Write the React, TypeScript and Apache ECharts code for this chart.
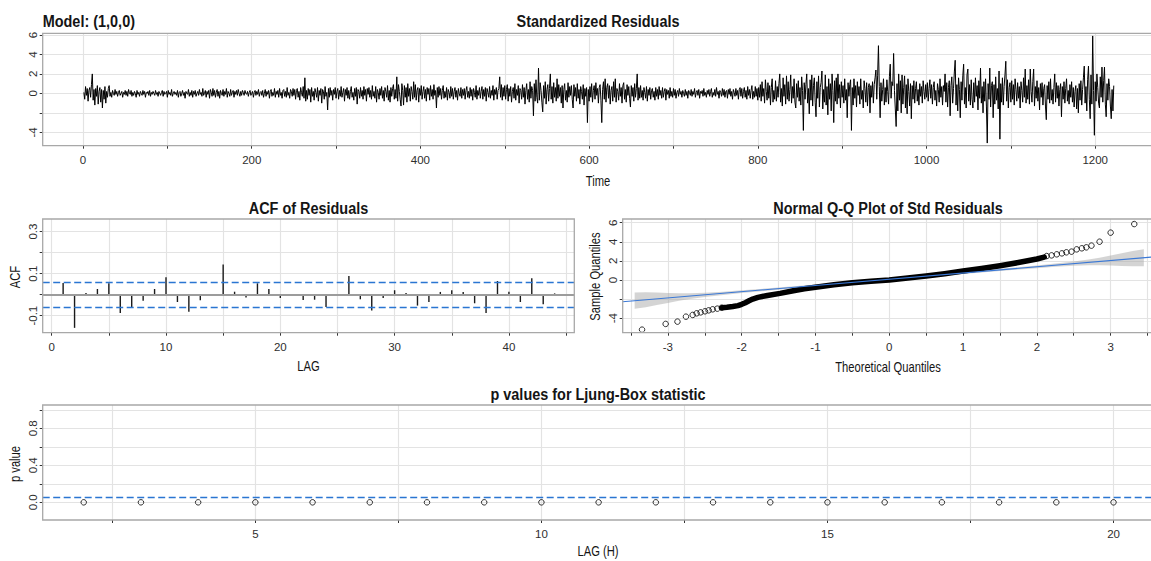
import React, { useEffect, useRef } from "react";
import * as echarts from "echarts";

// ---------- data ----------
const residuals: number[] = [
  0.1, -0.6, 0.7, -0.2, 0.5, -0.8, 0.3, 0.6, -0.4, 0.9, 2.0, -0.7, 0.4, -1.2, 0.5, -0.3, 0.8, -1.1, 0.2, 0.6,
  -0.9, 0.4, -1.5, 0.3, -0.6, 0.7, -1.0, 0.2, -0.4, 0.5,
  0.8, -0.3, 0.1, -0.4, 0.3, 0.0, -0.2, 0.4, -0.1, 0.2, -0.3, 0.1, 0.3, -0.2, 0.0, 0.2, -0.4, 0.1, -0.1, 0.3,
  -0.2, 0.2, -0.3, 0.4, 0.0, -0.1, 0.3, -0.3, 0.1, -0.2, 0.2, 0.0, -0.4, 0.3, -0.1, 0.1, -0.3, 0.2, 0.0, -0.2,
  0.3, -0.1, 0.2, -0.4, 0.1, 0.0, 0.2, -0.2, 0.3, -0.3, 0.1, -0.1, 0.2, 0.0, -0.2, 0.3, -0.1, 0.1, -0.3, 0.2,
  0.0, -0.2, 0.1, 0.3, -0.3, 0.2, -0.1, 0.0, 0.2, -0.4, 0.3, -0.1, 0.1, -0.2, 0.4, -0.3, 0.0, 0.2, -0.1, 0.1,
  -0.2, 0.3, -0.4, 0.1, 0.2, -0.3, 0.0, 0.3, -0.2, 0.1, -0.5, 0.2, 0.0, -0.1, 0.4, -0.3, 0.1, -0.2, 0.3, -0.4,
  0.2, -0.1, 0.3, -0.3, 0.0, 0.2, -0.2, 0.4, -0.1, 0.1, -0.3, 0.5, -0.2, 0.0, 0.3, -0.4, 0.2, -0.1, 0.3, -0.5,
  0.4, 0.1, -0.3, 0.5, -0.2, 0.3, -0.4, 0.1, 0.4, -0.3, 0.2, -0.5, 0.3, 0.0, -0.2, 0.4, -0.3, 0.2, -0.1, 0.5,
  -0.4, 0.2, 0.0, -0.3, 0.4, -0.2, 0.1, 0.3, -0.4, 0.2, -0.1, 0.3, -0.2, 0.4, 0.0, -0.3, 0.2, -0.2, 0.3, 0.1,
  -0.2, 0.3, 0.0, -0.1, 0.2, -0.3, 0.1, 0.3, -0.2, 0.0, 0.2, -0.4, 0.1, 0.3, -0.2, 0.2, -0.1, 0.4, -0.3, 0.1,
  0.2, -0.2, 0.3, -0.4, 0.0, 0.4, -0.3, 0.2, -0.1, 0.3, -0.5, 0.2, 0.4, -0.3, 0.1, -0.2, 0.5, -0.4, 0.2, -0.1,
  0.3, -0.4, 0.5, -0.2, 0.1, -0.5, 0.3, 0.4, -0.3, 0.2, -0.4, 0.6, -0.2, 0.1, -0.5, 0.4, 0.2, -0.3, 0.5, -0.2,
  0.4, -0.6, 0.3, 0.5, -0.4, 0.2, -0.7, 0.6, 0.1, -0.3, 0.7, -0.5, 1.6, -0.8, 0.3, -0.6, 0.5, -0.2, 0.4, -0.9,
  0.6, -0.3, 0.2, -0.7, 0.5, 0.1, -0.4, 0.6, -0.8, 0.3, -0.2, 0.5, -1.0, 0.4, 0.2, -0.6, 0.7, -0.3, 0.1, -1.7,
  0.5, -0.4, 0.6, -0.2, 0.3, -0.7, 0.4, -0.1, 0.6, -0.5, 0.2, 0.5, -0.6, 0.3, -0.3, 0.7, -0.4, 0.1, 0.5, -0.8,
  0.4, -0.2, 0.6, -0.5, 0.3, -0.6, 0.2, 0.7, -0.4, 0.1, -0.7, 0.5, -0.3, 0.6, -1.1, 0.4, 0.2, -0.5, 0.6, -0.3,
  0.3, -0.6, 0.7, -0.2, 0.4, -0.8, 0.5, -0.1, 0.6, -0.4, 0.3, -0.6, 0.8, -0.3, 0.2, -0.5, 0.7, -0.9, 0.4, 0.1,
  -0.6, 0.5, -0.2, 0.7, -0.5, 0.3, -0.8, 0.6, 0.2, -0.4, 0.8, -0.7, 0.3, -0.9, 0.6, -0.3, 0.5, 0.9, -0.6, 0.4,
  -0.5, 1.7, -0.8, 0.9, 0.2, -0.6, -1.3, 1.0, 0.3, -1.2, 0.8, -0.4, 0.6, -0.9, 1.0, -0.3, 0.5, -0.8, 0.7, 0.2,
  -0.6, 1.2, -0.4, 0.9, -0.7, 0.3, 0.6, -0.9, 0.5, -0.2, 0.8, -0.6, 0.2, 0.7, -0.5, 0.4, -0.8, 0.6, -0.1, 0.5,
  -0.7, 0.8, -0.3, 0.4, -0.6, 0.9, -0.2, 0.3, -1.5, 0.6, -0.4, 0.7, -0.2, 0.5, -0.6, 0.3, 0.8, -0.5, 0.2, -0.4,
  0.6, -0.7, 0.4, 0.1, -0.5, 0.7, -0.3, 0.5, -0.6, 0.2, 0.6, -0.4, 0.3, -0.7, 0.5, 0.0, -0.3, 0.6, -0.5, 0.4,
  -0.2, 0.5, -0.6, 0.3, 0.7, -0.4, 0.2, -0.5, 0.6, -0.3, 0.4, -0.7, 0.5, 0.1, -0.4, 0.8, -0.6, 0.3, -0.2, 0.6,
  -0.5, 0.2, 0.7, -0.6, 0.4, -0.3, 0.6, -0.8, 0.5, 0.1, -0.4, 0.7, -0.5, 0.3, -0.2, 0.8, -0.7, 0.4, -0.1, 0.6,
  -0.6, 0.3, 0.5, 1.7, -0.4, 0.9, -0.7, 0.6, -0.3, 0.8,
  -0.6, 0.4, 0.9, -0.8, 0.5, -0.3, 0.7, -0.9, 0.2, 0.6, -0.5, 1.0, -0.7, 0.4, -0.2, 0.8, -1.0, 0.5, 0.3, -0.6,
  0.9, -0.4, 0.6, -1.1, 0.3, 1.0, -0.6, 0.4, -0.9, 1.2, -0.5, 0.7, 0.3, -2.3, 1.0, -0.8, 1.4, -0.4, -1.0, 2.6,
  -0.7, 1.1, 0.3, -0.9, -1.9, 0.8, -0.5, 1.2, -1.1, 0.4, 0.9, -0.8, 0.5, 2.0, -0.6, 0.7, -1.0, 1.1, -0.4, 0.6,
  -0.8, 1.5, -0.5, 0.9, -0.3, 0.6, -1.0, 0.8, -1.5, 0.4, 1.0, -0.7, 0.3, -0.9, 1.1, -0.4, 0.7, -0.2, 0.8, -0.6,
  -1.5, 0.9, -0.3, 0.6, -0.8, 1.0, -0.5, 0.4, -1.1, 0.7, 0.2, -0.6, 0.9, -1.2, 0.5, -0.3, 0.6, -3.0, 0.4, -0.8,
  0.7, -0.4, 1.0, -0.9, 0.3, 0.8, -0.6, 1.1, -0.2, 0.5, -1.0, 0.6, 0.9, -0.7, -3.0, 0.4, 1.2, -0.6, 1.5, -0.9,
  0.6, 1.0, -0.5, 0.8, -1.1, 0.3, 0.7, -0.8, 1.2, -0.4, 1.5, -0.9, 0.5, 0.2, -0.7, 1.0, -0.3, 0.6, -1.0, 0.8,
  1.1, -0.6, 0.4, -0.9, 0.9, -0.2, 0.7, -0.5, -1.4, 0.8, -0.3, 0.6, -0.8, 1.0, -0.4, 0.5, 2.0, -0.7, 0.6, -0.5,
  0.8, -0.4, 0.3, -0.7, 0.6, 0.1, -0.5, 0.7, -0.8, 0.4, -0.2, 0.6, -0.6, 0.3, 0.5, -0.4, 0.2, -0.7, 0.6, -0.3,
  0.4, -0.6, 0.7, -0.2, 0.3, -0.5, 0.6, -0.4, 0.2, 0.5, -0.7, 0.4, -0.1, 0.3, -0.5, 0.6, -0.3, 0.2, -0.4, 0.5,
  -0.2, 0.4, -0.5, 0.1, 0.3, -0.3, 0.5, -0.1, 0.2, -0.4, 0.3, 0.0, -0.3, 0.4, -0.2, 0.2, -0.5, 0.3, 0.1, -0.2,
  0.4, -0.3, 0.2, -0.1, 0.5, -0.4, 0.1, 0.3, -0.2, 0.4, -0.5, 0.2, 0.0, 0.3, -0.3, 0.5, -0.2, 0.1, -0.4, 0.3,
  -0.1, 0.4, -0.3, 0.2, 0.5, -0.4, 0.1, -0.2, 0.4, -0.3, 0.6, -0.1, 0.2, -0.5, 0.3, 0.1, -0.3, 0.5, -0.2, 0.4,
  -0.4, 0.2, 0.3, -0.5, 0.4, -0.1, 0.5, -0.3, 0.2, -0.6, 0.4, 0.1, -0.3, 0.5, -0.2, 0.3, -0.6, 0.4, 0.6, -0.3,
  0.5, -0.5, 0.2, 0.6, -0.4, 0.3, -0.6, 0.7, -0.2, 0.4, -0.5, 0.3, 0.8, -0.6, 0.2, -0.4, 0.7, -0.3, 0.5, -0.7,
  0.6, -0.4, 0.9, -0.8, 1.2, -0.3, 0.5, -1.0, 1.4, 0.2, -0.7, 1.1, -0.5, 0.8, -1.2, 0.6, 1.5, -0.9, 0.3, -0.6,
  1.3, -0.8, 0.7, -0.4, 1.0, 2.0, -0.9, 0.5, -1.3, 1.6, -0.3, 0.9, -1.1, 1.8, -0.6, 1.2, -0.8, 0.4, 1.9, -1.0,
  0.7, -0.5, 1.5, -0.9, -1.5, 1.0, -0.4, 1.3, -0.8, 0.6,
  -1.2, 1.7, 0.3, -3.8, 1.1, -0.6, 0.9, 2.0, -1.0, 0.5, -2.1, 1.4, -0.7, 1.9, -1.3, 0.8, 1.6, -0.9, -2.4, 1.2,
  -0.5, 1.8, -1.4, 0.6, 1.1, 2.3, -1.6, 0.4, -0.9, 1.9, -1.2, 0.7, -2.2, 1.5, -0.6, 1.0, -1.8, 2.0, 0.3, -3.0,
  1.3, -0.8, 1.6, -1.1, 2.0, -0.5, 0.9, -1.5, 1.2, -0.4,
  0.8, -1.0, 1.5, -0.7, 0.4, -2.5, 1.1, -0.3, 0.9, 1.4, -3.8, 0.6, -1.2, 1.5, -0.5, 0.8, -1.4, 1.2, -0.2, 0.7,
  -1.1, 1.5, -0.6, 0.3, -1.5, 1.3, 0.5, -0.9, 1.1, -1.3, 0.6, 1.0, -2.0, 0.8, -0.4, 1.2, -1.0, 0.9, 1.6, 2.4,
  -0.6, 1.8, 4.9, 0.7, -2.5, 1.1, -0.8, 0.4, 1.5, -1.2,
  0.6, -0.9, 1.4, 0.2, -1.1, 1.7, 3.0, -0.5, 1.2, 0.8, 4.1, 0.3, -1.6, -3.4, 1.0, -1.8, 2.0, -0.7, 1.3, -2.0,
  1.9, -1.1, 0.6, 1.8, -1.5, 0.9, -2.1, 1.5, 0.2, -1.3, 1.0, -2.6, 0.8, -0.6, 1.3, -1.0, 0.5, 1.2, -0.8, 0.4,
  -1.2, 1.0, -0.3, 0.7, -1.0, 1.3, 0.2, -0.6, 0.9, -0.4,
  1.1, -0.8, 0.5, 1.4, -0.5, 0.9, -1.1, 0.6, 1.2, -0.7, 0.3, -1.3, 1.0, 0.4, -0.9, 1.5, -0.4, 0.7, -1.2, 0.8,
  0.2, 2.0, -0.9, 1.1, -1.4, 0.6, 1.3, -2.3, 0.8, 1.7, -1.0, 0.5, 2.2, 3.4, -1.2, 0.9, -1.8, 1.6, 0.4, -2.5,
  1.2, -0.7, 1.8, 3.0, -1.1, 0.6, -1.5, 1.9, 2.5, -0.8,
  0.9, -1.2, 1.4, -0.6, -1.5, 1.1, -0.9, 1.6, -0.3, 0.8, -1.7, 1.3, -0.5, 2.6, -1.0, 0.7, -2.0, 1.2, -0.8, 1.5,
  -1.3, -5.1, 1.0, -0.6, 2.6, -1.4, 0.8, 1.2, -2.5, 0.9, -1.1, 1.7, -0.7, 0.5, -1.6, 2.3, -4.7, 1.0, -0.9, 1.6,
  -1.2, 0.7, 1.9, 3.3, -0.8, 1.4, -1.5, 0.6, 1.1, -0.9,
  1.3, -0.6, 0.9, -1.2, 1.5, 0.4, -0.8, 1.1, -0.5, 0.7, -1.5, 1.2, 0.3, -0.9, 1.6, -0.4, 2.5, -1.0, 0.8, -0.6,
  1.4, -1.1, 2.5, 0.2, -0.9, 1.2, 2.5, -1.3, 0.7, -0.5, 1.3, -0.8, 0.6, -1.7, 1.0, -0.4, 1.1, -1.2, 0.5, 0.9,
  -1.3, -2.7, 0.8, -0.6, 1.2, -1.0, 1.5, -0.7, 0.4, -1.1,
  0.6, 2.0, -0.9, 1.1, -0.5, 0.8, -1.3, 0.4, 1.0, -2.4, 0.7, -0.6, 1.2, -1.0, 0.5, 1.5, -0.8, 0.3, -1.1, 0.9,
  -0.4, 1.2, -0.9, 0.6, -1.4, 0.2, 0.8, -1.6, 0.5, -2.0, 1.0, -0.7, 1.3, -1.2, 0.4, 1.6, 2.8, -1.0, 0.7, -1.8,
  1.4, 2.8, -0.6, -2.6, 1.9, -1.1, 5.9, 0.3, -4.3, 1.2, -0.8, 2.0, 0.6, -1.0, -1.5, 1.7, -0.4, 2.7, -0.9, 1.3,
  2.7, -1.1, -2.4, 1.0, -0.7, 1.5, 0.7, -1.3, -2.6, 0.4, -1.8, 0.8,
];

const acfValues: number[] = [
  0.056, -0.158, 0.008, 0.027, 0.054, -0.087, -0.059, -0.029, 0.027, 0.083,
  -0.035, -0.081, -0.027, 0.003, 0.143, 0.014, -0.014, 0.054, 0.027, -0.016,
  0.002, -0.025, -0.024, -0.059, 0.0, 0.089, -0.022, -0.075, -0.016, 0.021,
  0.008, -0.052, -0.035, 0.013, 0.021, 0.013, -0.041, -0.087, 0.065, 0.014,
  -0.035, 0.078, -0.046, 0.006,
];
const acfBound = 0.057;

const qqTailLow: number[][] = [
  [-3.35, -5.2], [-3.03, -4.6], [-2.87, -4.36], [-2.755, -3.84], [-2.664, -3.66],
  [-2.61, -3.49], [-2.556, -3.39], [-2.497, -3.28], [-2.447, -3.18], [-2.393, -3.07],
  [-2.33, -3.0], [-2.27, -2.9],
];
const qqDense: number[][] = [
  [-2.27, -2.9], [-2.2, -2.86], [-2.12, -2.78], [-2.05, -2.68], [-2.0, -2.55], [-1.95, -2.38],
  [-1.9, -2.18], [-1.85, -2.0], [-1.78, -1.82], [-1.65, -1.62], [-1.48, -1.4], [-1.3, -1.12],
  [-1.15, -0.92], [-1.0, -0.75], [-0.75, -0.5], [-0.5, -0.28], [-0.25, -0.12], [0, 0.0],
  [0.25, 0.2], [0.5, 0.42], [0.75, 0.66], [1.0, 0.94], [1.25, 1.2], [1.5, 1.5], [1.75, 1.83],
  [2.0, 2.2], [2.1, 2.4],
];
const qqTailHigh: number[][] = [
  [2.133, 2.51], [2.2, 2.58], [2.27, 2.69], [2.34, 2.79], [2.4, 2.9], [2.47, 2.97],
  [2.54, 3.21], [2.61, 3.32], [2.67, 3.42], [2.74, 3.6], [2.85, 4.01], [3.0, 4.96], [3.32, 5.86],
];
const qqLineEnds: number[][] = [[-3.612, -2.275], [3.574, 2.41]];
const qqBandX: number[] = [-3.45, -3.3, -3.15, -3.0, -2.85, -2.7, -2.5, -2.25, -2.0, -1.5, -1.0, -0.5, 0, 0.5, 1.0, 1.5, 2.0, 2.25, 2.5, 2.7, 2.85, 3.0, 3.15, 3.3, 3.45];
const qqBandLower: number[] = [-3.02, -2.85, -2.63, -2.4, -2.18, -1.98, -1.77, -1.56, -1.36, -1.01, -0.66, -0.33, 0.0, 0.33, 0.64, 0.95, 1.24, 1.38, 1.49, 1.54, 1.54, 1.52, 1.47, 1.43, 1.43];
const qqBandUpper: number[] = [-1.32, -1.29, -1.31, -1.36, -1.38, -1.38, -1.33, -1.22, -1.08, -0.79, -0.48, -0.17, 0.16, 0.49, 0.82, 1.17, 1.52, 1.72, 1.93, 2.14, 2.34, 2.56, 2.79, 3.03, 3.23];

const lbLags: number[] = [2, 3, 4, 5, 6, 7, 8, 9, 10, 11, 12, 13, 14, 15, 16, 17, 18, 19, 20];
const lbPValues: number[] = [0, 0, 0, 0, 0, 0, 0, 0, 0, 0, 0, 0, 0, 0, 0, 0, 0, 0, 0];
const lbLevel = 0.05;

// tick positions & labels
const resXTicks = [0, 100, 200, 300, 400, 500, 600, 700, 800, 900, 1000, 1100, 1200];
const resXLabels = [0, 200, 400, 600, 800, 1000, 1200];
const resYTicks = [-4, -2, 0, 2, 4, 6];
const resYLabels = [-4, 0, 2, 4, 6];
const acfXTicks = [0, 5, 10, 15, 20, 25, 30, 35, 40, 45];
const acfXLabels = [0, 10, 20, 30, 40];
const acfYTicks = [-0.1, 0, 0.1, 0.2, 0.3];
const acfYLabels = [-0.1, 0.1, 0.3];
const qqXTicks = [-3.5, -3, -2.5, -2, -1.5, -1, -0.5, 0, 0.5, 1, 1.5, 2, 2.5, 3, 3.5];
const qqXLabels = [-3, -2, -1, 0, 1, 2, 3];
const qqYTicks = [-4, -2, 0, 2, 4, 6];
const qqYLabels = [-4, 0, 2, 4, 6];
const lbXTicks = [2.5, 5, 7.5, 10, 12.5, 15, 17.5, 20];
const lbXLabels = [5, 10, 15, 20];
const lbYTicks = [0, 0.2, 0.4, 0.6, 0.8, 1.0];
const lbYLabels = [0, 0.4, 0.8];

// ---------- layout & style ----------
const SANS = '"Liberation Sans", Arial, Helvetica, sans-serif';
const BLUE = "#2a76d2";
const GRIDC = "#e3e3e3";
const P = [
  { left: 42.7, top: 33.3, width: 1110.3, height: 112.4 },
  { left: 42.7, top: 219, width: 531.6, height: 113.7 },
  { left: 622.7, top: 219, width: 530.3, height: 113.7 },
  { left: 42.7, top: 405, width: 1110.3, height: 115 },
];

function fmt(v: number, labels: number[], d: number): string {
  return labels.some((l) => Math.abs(l - v) < 1e-6) ? Number(v).toFixed(d) : "";
}

function axis(kind: "x" | "y", gi: number, min: number, max: number, step: number, ticks: number[], labels: number[], d: number) {
  return {
    type: "value",
    gridIndex: gi,
    position: kind === "x" ? "bottom" : "left",
    min,
    max,
    minInterval: step,
    maxInterval: step,
    axisLine: { show: false, onZero: false },
    axisTick: { show: true, length: 3, lineStyle: { color: "#333", width: 1 }, customValues: ticks },
    axisLabel: {
      show: true,
      customValues: labels,
      margin: kind === "x" ? 8 : 4,
      rotate: kind === "y" ? 90 : 0,
      fontSize: 11.5,
      fontFamily: SANS,
      color: "#2e2e2e",
      formatter: (v: number) => fmt(v, labels, d),
    },
    splitLine: { show: true, lineStyle: { color: GRIDC, width: 1.2 } },
  };
}

function txt(text: string, x: number, y: number, size: number, bold: boolean, opts: any = {}) {
  const align = opts.align || "center";
  return {
    type: "text",
    x,
    y,
    z: 100,
    silent: true,
    rotation: opts.rot || 0,
    scaleX: opts.sx || 0.85,
    style: {
      text,
      fontFamily: SANS,
      fontSize: size,
      fontWeight: bold ? "bold" : "normal",
      fill: "#151515",
      align,
      textAlign: align,
      verticalAlign: "middle",
      textVerticalAlign: "middle",
    },
  };
}

const emptyCircle = { color: "rgba(0,0,0,0)", borderColor: "#000", borderWidth: 1 };

export default function App() {
  const ref = useRef<HTMLDivElement>(null);
  useEffect(() => {
    if (!ref.current) return;
    const chart = echarts.init(ref.current, null, { renderer: "svg" });
    const option: any = {
      animation: false,
      backgroundColor: "#ffffff",
      grid: P.map((p) => ({ ...p, show: false, outerBoundsMode: "none", containLabel: false })),
      xAxis: [
        axis("x", 0, -47.8, 1268.5, 100, resXTicks, resXLabels, 0),
        axis("x", 1, -0.787, 45.72, 5, acfXTicks, acfXLabels, 0),
        axis("x", 2, -3.612, 3.574, 0.5, qqXTicks, qqXLabels, 0),
        axis("x", 3, 1.283, 20.69, 2.5, lbXTicks, lbXLabels, 0),
      ],
      yAxis: [
        axis("y", 0, -5.37, 6.17, 2, resYTicks, resYLabels, 0),
        axis("y", 1, -0.181, 0.36, 0.1, acfYTicks, acfYLabels, 1),
        axis("y", 2, -5.52, 6.39, 2, qqYTicks, qqYLabels, 0),
        axis("y", 3, -0.191, 1.052, 0.2, lbYTicks, lbYLabels, 1),
      ],
      series: [
        {
          type: "line",
          xAxisIndex: 0,
          yAxisIndex: 0,
          data: residuals.map((v, i) => [i + 1, v]),
          symbol: "none",
          showSymbol: false,
          lineStyle: { color: "#000", width: 1.0 },
          silent: true,
          z: 3,
        },
        {
          type: "bar",
          xAxisIndex: 1,
          yAxisIndex: 1,
          data: acfValues.map((v, i) => [i + 1, v]),
          barWidth: 1.4,
          itemStyle: { color: "#1a1a1a" },
          silent: true,
          z: 4,
          markLine: {
            silent: true,
            symbol: ["none", "none"],
            label: { show: false },
            data: [
              { yAxis: 0, lineStyle: { color: "#9c9c9c", width: 2, type: "solid" } },
              { yAxis: acfBound, lineStyle: { color: BLUE, width: 1.3, type: [7, 3.5] } },
              { yAxis: -acfBound, lineStyle: { color: BLUE, width: 1.3, type: [7, 3.5] } },
            ],
          },
        },
        {
          type: "custom",
          xAxisIndex: 2,
          yAxisIndex: 2,
          silent: true,
          z: 2,
          clip: true,
          data: [[0, 0]],
          renderItem: (_params: any, api: any) => {
            const pts: number[][] = [];
            for (let i = 0; i < qqBandX.length; i++) pts.push(api.coord([qqBandX[i], qqBandUpper[i]]));
            for (let i = qqBandX.length - 1; i >= 0; i--) pts.push(api.coord([qqBandX[i], qqBandLower[i]]));
            return { type: "polygon", shape: { points: pts }, style: { fill: "rgba(170,170,170,0.5)" } };
          },
        },
        {
          type: "line",
          xAxisIndex: 2,
          yAxisIndex: 2,
          data: qqDense,
          symbol: "none",
          lineStyle: { color: "#000", width: 5.5, cap: "round", join: "round" },
          silent: true,
          z: 3,
        },
        {
          type: "scatter",
          xAxisIndex: 2,
          yAxisIndex: 2,
          data: [...qqTailLow, ...qqTailHigh],
          symbol: "circle",
          symbolSize: 5.5,
          itemStyle: emptyCircle,
          silent: true,
          z: 4,
        },
        {
          type: "line",
          xAxisIndex: 2,
          yAxisIndex: 2,
          data: qqLineEnds,
          symbol: "none",
          lineStyle: { color: "#3a78d6", width: 1.1 },
          silent: true,
          z: 5,
        },
        {
          type: "scatter",
          xAxisIndex: 3,
          yAxisIndex: 3,
          data: lbLags.map((l, i) => [l, lbPValues[i]]),
          symbol: "circle",
          symbolSize: 5.5,
          itemStyle: emptyCircle,
          silent: true,
          z: 4,
          markLine: {
            silent: true,
            symbol: ["none", "none"],
            label: { show: false },
            data: [{ yAxis: lbLevel, lineStyle: { color: BLUE, width: 1.3, type: [7, 3.5] } }],
          },
        },
      ],
      graphic: [
        ...P.map((p) => ({
          type: "rect",
          z: 100,
          silent: true,
          shape: { x: p.left, y: p.top, width: p.width, height: p.height },
          style: { fill: "none", stroke: "#a8a8a8", lineWidth: 1.3 },
        })),
        txt("Model: (1,0,0)", 42.7, 21, 17, true, { align: "left" }),
        txt("Standardized Residuals", 598, 21, 17, true),
        txt("ACF of Residuals", 308.5, 208, 17, true),
        txt("Normal Q-Q Plot of Std Residuals", 888, 208, 17, true),
        txt("p values for Ljung-Box statistic", 598, 394, 17, true),
        txt("Time", 598, 182, 14, false, { sx: 0.8 }),
        txt("LAG", 308.5, 367, 14, false, { sx: 0.8 }),
        txt("Theoretical Quantiles", 888, 368, 14, false, { sx: 0.8 }),
        txt("LAG (H)", 598, 552, 14, false, { sx: 0.8 }),
        txt("ACF", 16, 277, 14, false, { sx: 0.8, rot: Math.PI / 2 }),
        txt("Sample Quantiles", 595.5, 276.5, 14, false, { sx: 0.8, rot: Math.PI / 2 }),
        txt("p value", 16, 464, 14, false, { sx: 0.8, rot: Math.PI / 2 }),
      ],
    };
    chart.setOption(option);
    return () => chart.dispose();
  }, []);
  return <div ref={ref} style={{ position: "absolute", left: 0, top: 0, width: 1151, height: 561 }} />;
}
